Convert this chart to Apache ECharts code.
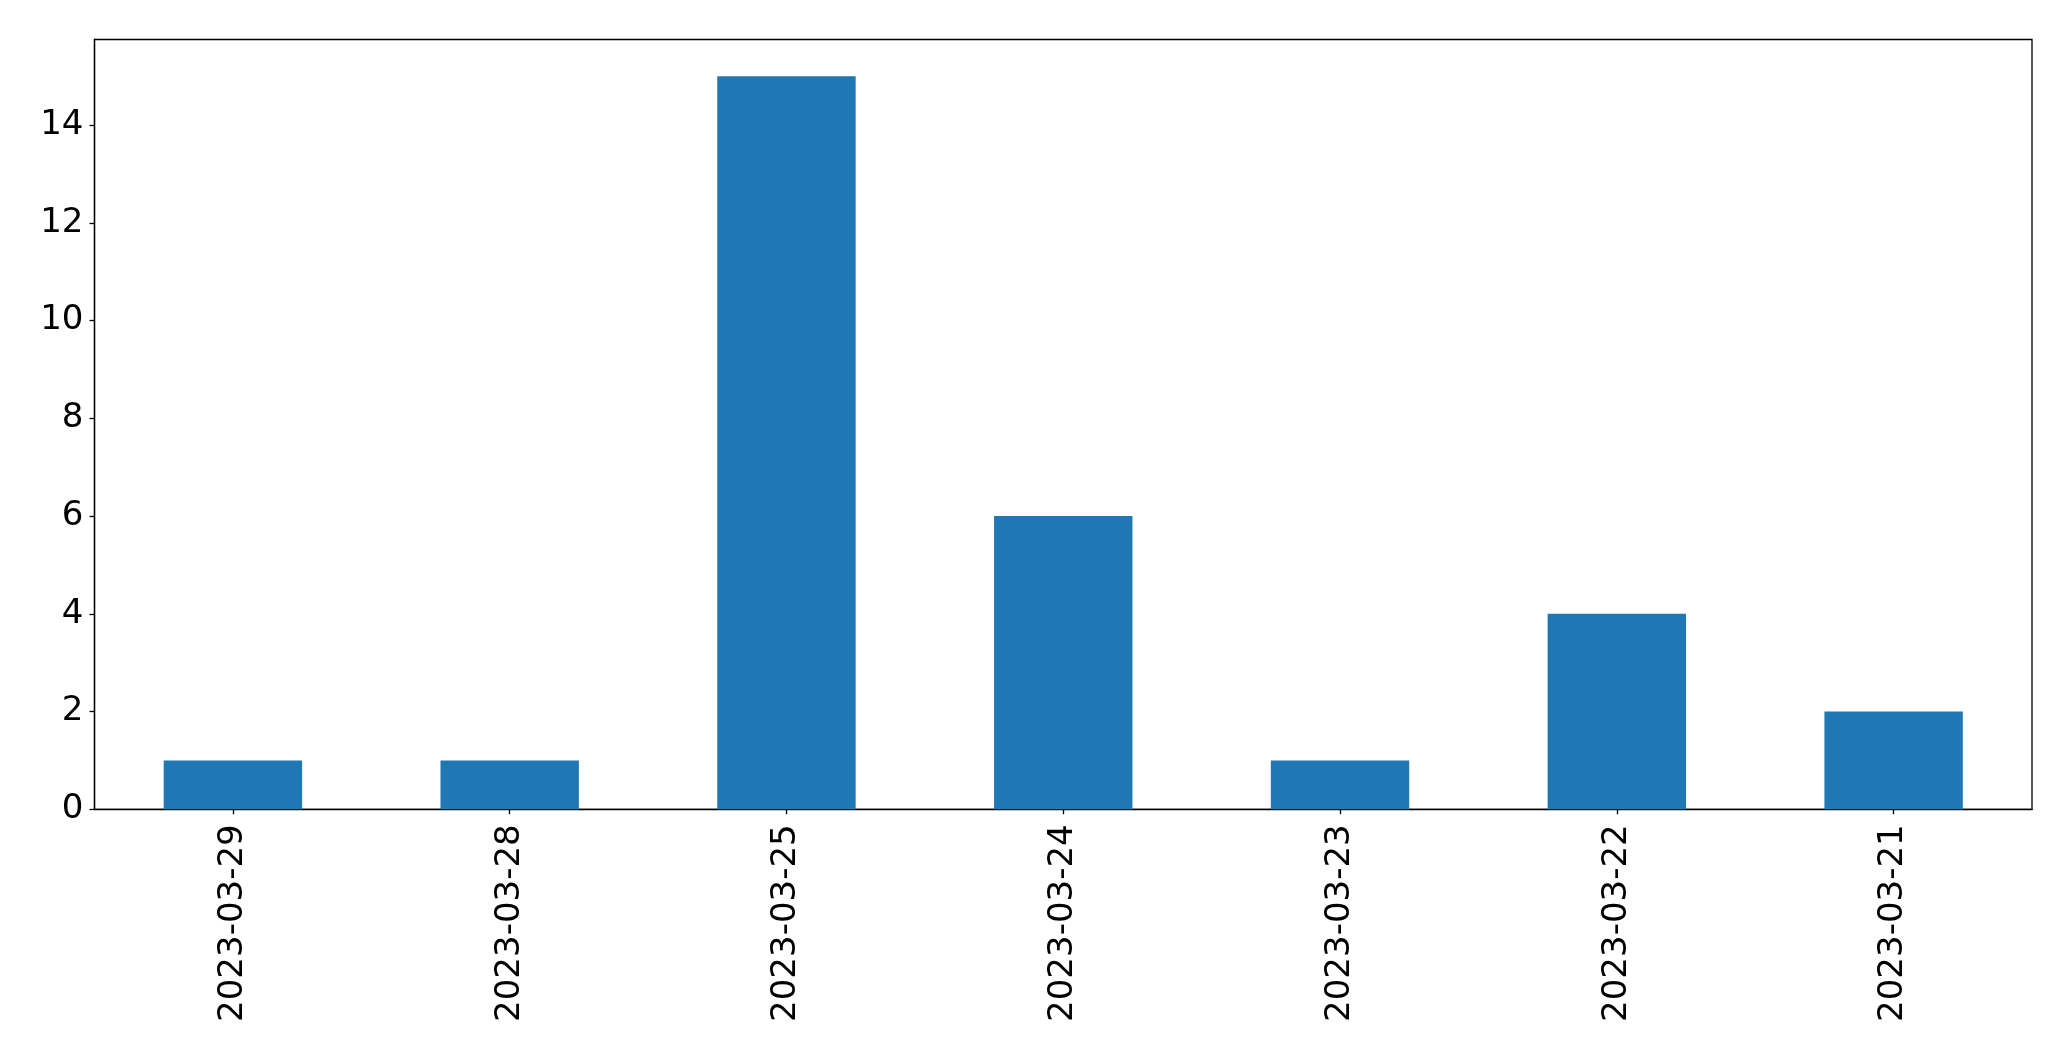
<!DOCTYPE html>
<html>
<head>
<meta charset="utf-8">
<script src="https://cdn.jsdelivr.net/npm/echarts@6/dist/echarts.min.js"></script>
<style>html,body{margin:0;padding:0;background:#fff}#c{width:2071px;height:1061px}</style>
</head>
<body>
<div id="c"></div>
<script>
const categories = ["2023-03-29","2023-03-28","2023-03-25","2023-03-24","2023-03-23","2023-03-22","2023-03-21"];
const values = [1, 1, 15, 6, 1, 4, 2];
const yTicks = [0, 2, 4, 6, 8, 10, 12, 14];

const chart = echarts.init(document.getElementById('c'), null, {renderer: 'canvas'});
chart.setOption({
  animation: false,
  backgroundColor: '#ffffff',
  grid: {
    left: 94.5, right: 39, top: 39.5, bottom: 251.7,
    show: true, borderColor: '#000', borderWidth: 1.3, backgroundColor: 'transparent'
  },
  xAxis: {
    type: 'category',
    data: categories,
    boundaryGap: true,
    axisLine: {show: true, lineStyle: {color: '#000', width: 1.3}},
    axisTick: {show: true, alignWithLabel: true, length: 5, lineStyle: {color: '#000', width: 1.3}},
    axisLabel: {
      rotate: 90, margin: 15, color: '#000', fontSize: 34,
      fontFamily: 'DejaVu Sans', interval: 0
    },
    splitLine: {show: false}
  },
  yAxis: {
    type: 'value',
    min: 0, max: 15.75,
    interval: 2,
    axisLine: {show: true, lineStyle: {color: '#000', width: 1.3}},
    axisTick: {show: true, length: 5, customValues: yTicks, lineStyle: {color: '#000', width: 1.3}},
    axisLabel: {
      customValues: yTicks, margin: 11, color: '#000', fontSize: 34,
      fontFamily: 'DejaVu Sans'
    },
    splitLine: {show: false}
  },
  series: [{
    type: 'bar',
    data: values,
    barWidth: '50%',
    itemStyle: {color: '#1f77b4'}
  }]
});
</script>
</body>
</html>
